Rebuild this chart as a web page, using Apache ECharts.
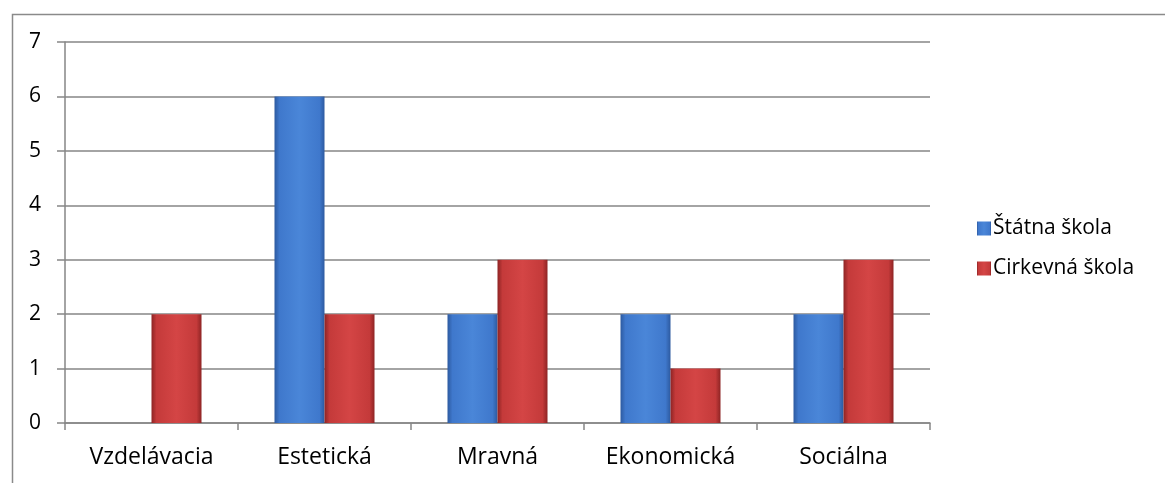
<!DOCTYPE html>
<html>
<head>
<meta charset="utf-8">
<script src="https://cdn.jsdelivr.net/npm/echarts@6/dist/echarts.min.js"></script>
<style>
  html, body { margin: 0; padding: 0; background: #fff; }
  #chart { width: 1165px; height: 483px; }
</style>
</head>
<body>
<div id="chart"></div>
<script>
// Categories of school activity and counts for each school type
const categories = ['Vzdelávacia', 'Estetická', 'Mravná', 'Ekonomická', 'Sociálna'];
const seriesNames = ['Štátna škola', 'Cirkevná škola'];
const statnaSkola = [0, 6, 2, 2, 2];
const cirkevnaSkola = [2, 2, 3, 1, 3];

const FONT = '"Open Sans", "Noto Sans", sans-serif';

// Horizontal gradient to give the bars a rounded, bevelled look
function bevel(dark, mid, light) {
  return new echarts.graphic.LinearGradient(0, 0, 1, 0, [
    { offset: 0, color: dark },
    { offset: 0.1, color: mid },
    { offset: 0.5, color: light },
    { offset: 0.9, color: mid },
    { offset: 1, color: dark }
  ]);
}

const chart = echarts.init(document.getElementById('chart'), null, { renderer: 'canvas' });

chart.setOption({
  animation: false,
  textStyle: { fontFamily: FONT },
  graphic: [{
    type: 'rect',
    left: 10, top: 12,
    shape: { width: 1200, height: 520 },
    style: { fill: 'none', stroke: '#8a8a8a', lineWidth: 1.5 },
    silent: true,
    z: -1
  }],
  grid: { left: 65, right: 235, top: 42, bottom: 60, containLabel: false },
  legend: {
    orient: 'vertical',
    left: 972,
    top: 213,
    itemWidth: 14,
    itemHeight: 14,
    itemGap: 19,
    icon: 'rect',
    textStyle: { fontSize: 21, color: '#000', fontFamily: FONT, padding: [0, 0, 0, -3] },
    data: seriesNames
  },
  xAxis: {
    type: 'category',
    data: categories,
    axisLine: { lineStyle: { color: '#868686', width: 1.5 } },
    axisTick: { show: true, length: 7, alignWithLabel: false, lineStyle: { color: '#868686', width: 1.5 } },
    axisLabel: { fontSize: 23, color: '#000', margin: 23, fontFamily: FONT }
  },
  yAxis: {
    type: 'value',
    min: 0, max: 7, interval: 1,
    axisLine: { show: true, lineStyle: { color: '#868686', width: 1.5 } },
    axisTick: { show: true, length: 8, lineStyle: { color: '#868686', width: 1.5 } },
    splitLine: { lineStyle: { color: '#868686', width: 1.5 } },
    axisLabel: { fontSize: 21, color: '#000', margin: 24, fontFamily: FONT }
  },
  series: [
    {
      name: seriesNames[0],
      type: 'bar',
      data: statnaSkola,
      barWidth: 50,
      barGap: '0%',
      itemStyle: { color: bevel('#2d5aa0', '#3f78cc', '#4a86d8') }
    },
    {
      name: seriesNames[1],
      type: 'bar',
      data: cirkevnaSkola,
      barWidth: 50,
      barGap: '0%',
      itemStyle: { color: bevel('#8e2424', '#c43a3a', '#d44545') }
    }
  ]
});
</script>
</body>
</html>
